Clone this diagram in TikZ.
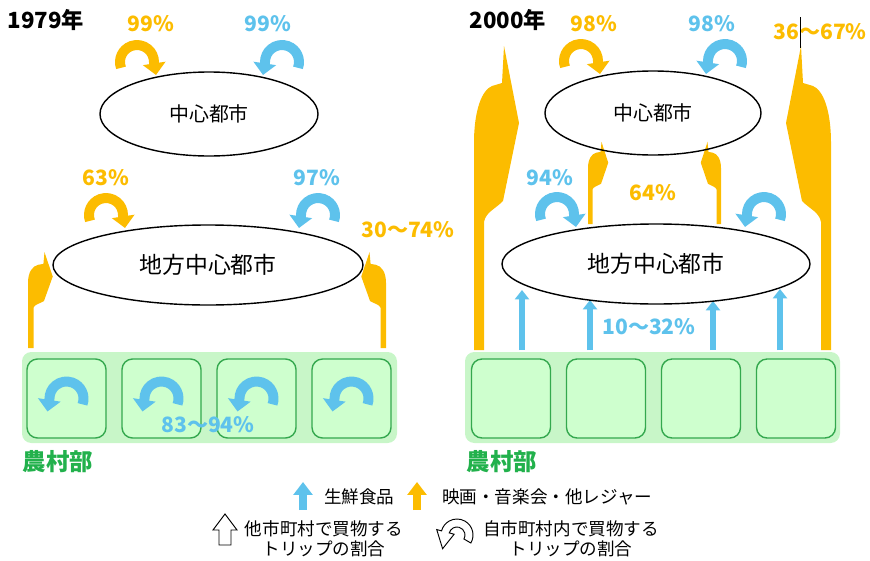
\documentclass[tikz,border=0pt]{standalone}
\usepackage{fontspec}
\setmainfont{Noto Sans CJK JP}
\usetikzlibrary{shapes.geometric, positioning, arrows.meta}

\definecolor{leisureorange}{RGB}{252,188,0}
\definecolor{foodblue}{RGB}{94,194,236}
\definecolor{farmgreen}{RGB}{34,177,76}
\definecolor{bandfill}{RGB}{200,246,200}
\definecolor{boxfill}{RGB}{206,255,206}
\definecolor{boxline}{RGB}{52,168,78}

\newcommand{\rturn}[2]{\draw[uturn,#2] #1 ++(160:17) arc[start angle=160,end angle=360,radius=17] -- ++(2,13);}
\newcommand{\lturn}[2]{\draw[uturn,#2] #1 ++(20:17) arc[start angle=20,end angle=-180,radius=17] -- ++(-2,13);}
\newcommand{\leisure}[4]{\fill[leisureorange,shift={(#1,#2)},xscale=#3,yscale=#4]
  (0,0) -- (0,-207) .. controls (0,-240) and (8,-260) .. (18,-264) -- (28,-267) -- (30,-304)
  -- (45,-227) -- (29,-149) .. controls (20,-140) and (12,-138) .. (10,-128) -- (10,0) -- cycle;}

\begin{document}
\begin{tikzpicture}[x=0.03cm, y=-0.03cm, node distance=2.85cm,
    city/.style={ellipse, draw, line width=1.2pt, inner sep=0pt},
    farm/.style={draw=boxline, fill=boxfill, line width=1.2pt, rounded corners=9pt, minimum size=2.37cm},
    uturn/.style={line width=8.5pt, -{Triangle[width=19pt,length=10pt]}},
    food/.style={foodblue, line width=5pt, -{Triangle[width=12pt,length=8pt]}},
    keyarrow/.style={line width=7pt, -{Triangle[width=16pt,length=11pt]}},
    pct/.style={font=\fontsize{18}{21}\selectfont\bfseries},
    keytext/.style={font=\fontsize{15}{17}\selectfont, align=center}]
  \useasboundingbox (0,0) rectangle (870,560);

  \node[font=\fontsize{19}{22}\selectfont\bfseries] (t1) at (46,20) {1979年};
  \node[font=\fontsize{19}{22}\selectfont\bfseries] (t2) at (508,20) {2000年};

  \fill[bandfill, rounded corners=8pt] (22,352) rectangle (397,443);
  \fill[bandfill, rounded corners=8pt] (465,352) rectangle (840,443);
  \node[farm] (a1) at (66.5,398.5) {};
  \node[farm] (a2) [right of=a1] {};
  \node[farm] (a3) [right of=a2] {};
  \node[farm] (a4) [right of=a3] {};
  \node[farm] (b1) at (511,398.5) {};
  \node[farm] (b2) [right of=b1] {};
  \node[farm] (b3) [right of=b2] {};
  \node[farm] (b4) [right of=b3] {};
  \node[font=\fontsize{20}{24}\selectfont\bfseries, farmgreen] (n1) at (58,462) {農村部};
  \node[font=\fontsize{20}{24}\selectfont\bfseries, farmgreen] (n2) at (502,462) {農村部};

  \leisure{28}{348}{0.55}{0.315}
  \leisure{386}{348}{-0.55}{0.315}
  \leisure{474}{350}{1}{1}
  \leisure{831}{350}{-1}{1}
  \leisure{588}{224}{0.45}{0.27}
  \leisure{721}{224}{-0.45}{0.27}

  \coordinate (f1) at (522,350); \coordinate (g1) at (522,290);
  \coordinate (f2) at (590,350); \coordinate (g2) at (590,300);
  \coordinate (f3) at (713,350); \coordinate (g3) at (713,301);
  \coordinate (f4) at (780,350); \coordinate (g4) at (780,289);
  \foreach \i in {1,...,4} \draw[food] (f\i) -- (g\i);

  \node[city, minimum width=6.54cm, minimum height=2.52cm, font=\fontsize{17}{20}\selectfont] (c1) at (209,114) {中心都市};
  \node[city, minimum width=9.3cm, minimum height=2.4cm, font=\fontsize{19.5}{22}\selectfont] (r1) at (208,265) {地方中心都市};
  \node[city, minimum width=6.48cm, minimum height=2.52cm, font=\fontsize{17}{20}\selectfont] (c2) at (653,113) {中心都市};
  \node[city, minimum width=9.24cm, minimum height=2.4cm, font=\fontsize{19.5}{22}\selectfont] (r2) at (656,264) {地方中心都市};

  \rturn{(137,62)}{leisureorange}
  \lturn{(282,62)}{foodblue}
  \rturn{(106,215)}{leisureorange}
  \lturn{(318,215)}{foodblue}
  \rturn{(581,61)}{leisureorange}
  \lturn{(725,61)}{foodblue}
  \rturn{(557,214)}{foodblue}
  \lturn{(764,214)}{foodblue}
  \foreach \n in {a1,a2,a3,a4} \lturn{(\n)}{foodblue};

  \node[pct, leisureorange] (p1) at (151,24) {99\%};
  \node[pct, foodblue] (p2) at (268,24) {99\%};
  \node[pct, leisureorange] (p3) at (106,178) {63\%};
  \node[pct, foodblue] (p4) at (317,178) {97\%};
  \node[pct, leisureorange] (p5) at (408,230) {30～74\%};
  \node[pct, foodblue] (p6) at (208,425) {83～94\%};
  \node[pct, leisureorange] (q1) at (594,24) {98\%};
  \node[pct, foodblue] (q2) at (712,24) {98\%};
  \node[pct, leisureorange] (q3) at (820,32) {36～67\%};
  \node[pct, foodblue] (q4) at (550,178) {94\%};
  \node[pct, leisureorange] (q5) at (653,193) {64\%};
  \node[pct, foodblue] (q6) at (649,327) {10～32\%};
  \draw[line width=0.8pt] (800,17) -- (800,48);

  \coordinate (k1) at (303,510); \coordinate (k2) at (303,482);
  \draw[foodblue, keyarrow] (k1) -- (k2);
  \node[keytext, anchor=west] (l1) at (320,497) {生鮮食品};
  \coordinate (k3) at (417,510); \coordinate (k4) at (417,482);
  \draw[leisureorange, keyarrow] (k3) -- (k4);
  \node[keytext, anchor=west] (l2) at (438,497) {映画・音楽会・他レジャー};
  \draw[line width=0.8pt, fill=white] (219,545) -- (219,530) -- (213,530) -- (225,514)
    -- (237,530) -- (231,530) -- (231,545) -- cycle;
  \node[keytext] (l3) at (324,539) {他市町村で買物する\\トリップの割合};
  \draw[line width=0.8pt, fill=white, shift={(457,535)}] (30:8) -- (30:16)
    arc[start angle=30,end angle=-165,radius=16] -- (-165:21) -- (-14.4,13.7)
    -- (-165:3) -- (-165:8) arc[start angle=-165,end angle=30,radius=8] -- cycle;
  \node[keytext] (l4) at (571,539) {自市町村内で買物する\\トリップの割合};
\end{tikzpicture}
\end{document}
